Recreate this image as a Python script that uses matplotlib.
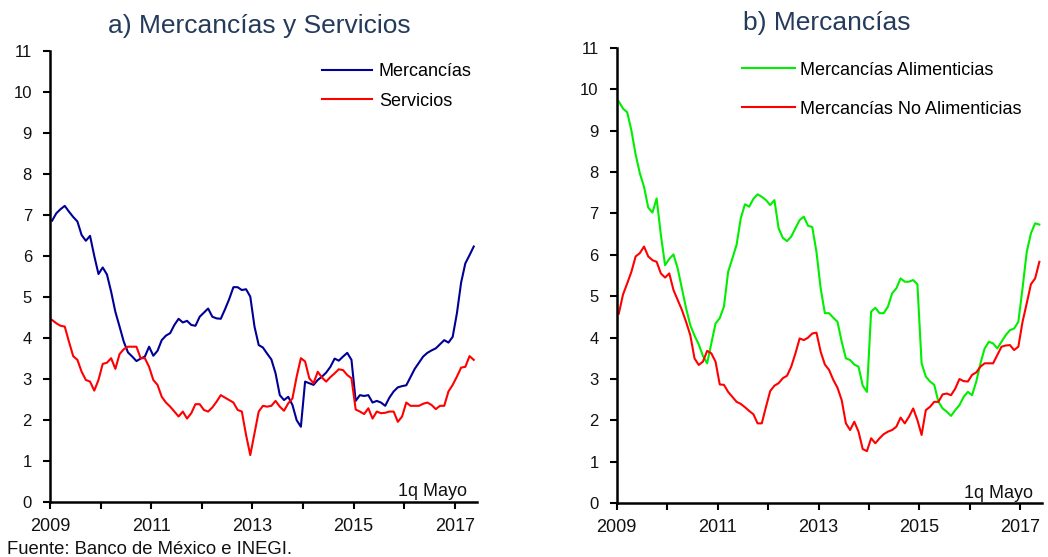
import matplotlib
matplotlib.use("Agg")
import matplotlib.pyplot as plt
import numpy as np

plt.rcParams['font.family'] = ['Liberation Sans', 'DejaVu Sans']

# Monthly data, Jan 2009 .. May 2017 (1q Mayo)
start_year = 2009
mercancias = [6.86, 7.04, 7.14, 7.22, 7.08, 6.95, 6.84, 6.51, 6.37, 6.49,
              6.00, 5.56, 5.72, 5.55, 5.13, 4.64, 4.28, 3.91, 3.65, 3.55,
              3.44, 3.50, 3.55, 3.79, 3.57, 3.69, 3.95, 4.06, 4.12, 4.32,
              4.47, 4.38, 4.42, 4.32, 4.30, 4.52, 4.62, 4.72, 4.52, 4.48,
              4.47, 4.70, 4.95, 5.24, 5.24, 5.17, 5.19, 5.01, 4.28, 3.83,
              3.77, 3.62, 3.48, 3.14, 2.61, 2.49, 2.57, 2.37, 2.00, 1.84,
              2.94, 2.90, 2.86, 2.98, 3.06, 3.16, 3.30, 3.50, 3.45, 3.55,
              3.64, 3.47, 2.47, 2.61, 2.59, 2.61, 2.43, 2.47, 2.43, 2.35,
              2.55, 2.70, 2.80, 2.83, 2.85, 3.05, 3.25, 3.40, 3.55, 3.64,
              3.70, 3.75, 3.85, 3.95, 3.89, 4.03, 4.60, 5.35, 5.82, 6.02,
              6.23]
servicios = [4.44, 4.36, 4.30, 4.28, 3.91, 3.56, 3.47, 3.18, 2.98, 2.94,
             2.72, 2.98, 3.37, 3.40, 3.51, 3.25, 3.61, 3.73, 3.79, 3.79,
             3.79, 3.51, 3.51, 3.30, 2.98, 2.86, 2.57, 2.43, 2.33, 2.21,
             2.09, 2.21, 2.04, 2.17, 2.39, 2.39, 2.25, 2.21, 2.31, 2.45,
             2.61, 2.55, 2.49, 2.43, 2.25, 2.21, 1.64, 1.15, 1.68, 2.21,
             2.35, 2.33, 2.35, 2.47, 2.33, 2.23, 2.41, 2.53, 3.06, 3.51,
             3.43, 3.02, 2.90, 3.18, 3.04, 2.94, 3.05, 3.14, 3.24, 3.22,
             3.10, 3.02, 2.26, 2.21, 2.15, 2.29, 2.04, 2.21, 2.17, 2.18,
             2.21, 2.21, 1.96, 2.09, 2.43, 2.35, 2.35, 2.35, 2.40, 2.43,
             2.37, 2.27, 2.35, 2.35, 2.70, 2.86, 3.06, 3.28, 3.30, 3.56,
             3.47]
alimenticias = [9.70, 9.53, 9.44, 9.00, 8.42, 7.97, 7.64, 7.14, 7.02, 7.36,
                6.48, 5.75, 5.90, 6.01, 5.67, 5.19, 4.71, 4.30, 4.05, 3.84,
                3.56, 3.38, 3.86, 4.34, 4.47, 4.75, 5.59, 5.91, 6.24, 6.88,
                7.22, 7.16, 7.35, 7.46, 7.40, 7.32, 7.20, 7.32, 6.64, 6.41,
                6.33, 6.44, 6.64, 6.84, 6.92, 6.70, 6.67, 6.07, 5.19, 4.59,
                4.59, 4.48, 4.38, 3.90, 3.50, 3.46, 3.35, 3.30, 2.84, 2.69,
                4.63, 4.72, 4.59, 4.59, 4.75, 5.07, 5.19, 5.43, 5.35, 5.35,
                5.39, 5.29, 3.38, 3.06, 2.94, 2.86, 2.45, 2.29, 2.21, 2.11,
                2.25, 2.37, 2.57, 2.69, 2.61, 2.94, 3.38, 3.74, 3.90, 3.86,
                3.74, 3.90, 4.06, 4.18, 4.22, 4.38, 5.19, 6.07, 6.52, 6.76,
                6.73]
no_alimenticias = [4.58, 5.04, 5.31, 5.59, 5.96, 6.04, 6.20, 5.96, 5.87, 5.83,
                   5.55, 5.45, 5.55, 5.15, 4.91, 4.67, 4.38, 4.06, 3.50, 3.34,
                   3.42, 3.68, 3.62, 3.42, 2.87, 2.86, 2.69, 2.57, 2.45, 2.40,
                   2.32, 2.23, 2.15, 1.93, 1.93, 2.33, 2.71, 2.84, 2.90, 3.02,
                   3.08, 3.30, 3.62, 3.98, 3.94, 4.00, 4.10, 4.12, 3.66, 3.35,
                   3.22, 2.98, 2.79, 2.49, 1.93, 1.77, 1.97, 1.73, 1.31, 1.26,
                   1.57, 1.45, 1.57, 1.67, 1.73, 1.77, 1.85, 2.07, 1.93, 2.09,
                   2.29, 2.01, 1.65, 2.25, 2.33, 2.45, 2.45, 2.63, 2.65, 2.61,
                   2.77, 3.00, 2.95, 2.94, 3.10, 3.16, 3.30, 3.38, 3.38, 3.38,
                   3.58, 3.78, 3.81, 3.82, 3.70, 3.78, 4.38, 4.83, 5.29, 5.43,
                   5.83]

year_ticks = list(range(2009, 2018))
year_labels = ['2009', '', '2011', '', '2013', '', '2015', '', '2017']
y_ticks = list(range(0, 12))

titles = ['a) Mercancías y Servicios', 'b) Mercancías']
labels_a = ['Mercancías', 'Servicios']
labels_b = ['Mercancías Alimenticias', 'Mercancías No Alimenticias']
note = '1q Mayo'
source = 'Fuente: Banco de México e INEGI.'

W, H = 1048, 557
fig = plt.figure(figsize=(W / 100, H / 100), dpi=100)

def px_axes(x0, x1, ytop, ybot):
    return fig.add_axes([x0 / W, 1 - ybot / H, (x1 - x0) / W, (ybot - ytop) / H])

ax1 = px_axes(50, 476.7, 50.7, 502.3)
ax2 = px_axes(616.7, 1042.3, 47.7, 503.3)

n = len(mercancias)
x = start_year + (np.arange(n) + 0.5) / 12.0

BLUE = '#000096'
RED = '#FF0000'
GREEN = '#00EE00'
TITLE_C = '#243B5A'

ax1.plot(x, mercancias, color=BLUE, lw=1.5, label=labels_a[0])
ax1.plot(x, servicios, color=RED, lw=1.5, label=labels_a[1])
ax2.plot(x, alimenticias, color=GREEN, lw=1.5, label=labels_b[0])
ax2.plot(x, no_alimenticias, color=RED, lw=1.5, label=labels_b[1])

for ax in (ax1, ax2):
    ax.set_xlim(2009, 2009 + 101.2 / 12)
    ax.set_ylim(0, 11)
    ax.set_yticks(y_ticks)
    ax.set_xticks(year_ticks)
    ax.set_xticklabels(year_labels)
    for s in ('top', 'right'):
        ax.spines[s].set_visible(False)
    for s in ('left', 'bottom'):
        ax.spines[s].set_linewidth(1.8)
        ax.spines[s].set_color('black')
    ax.tick_params(axis='both', direction='out', length=5, width=1.5, color='black')
    ax.tick_params(axis='y', labelsize=12, pad=8, labelcolor='#111111')
    ax.tick_params(axis='x', labelsize=13, pad=6, labelcolor='#111111')
    ax.set_facecolor('white')

# titles
fig.text(259 / W, 1 - 33 / H, titles[0], ha='center', va='baseline',
         fontsize=19, color=TITLE_C)
fig.text(827 / W, 1 - 30 / H, titles[1], ha='center', va='baseline',
         fontsize=19, color=TITLE_C)

# legends
leg1 = ax1.legend(loc='upper left', bbox_to_anchor=(321.7 / W, 1 - 63 / H),
                  bbox_transform=fig.transFigure, frameon=False, fontsize=13,
                  handlelength=2.77, handletextpad=0.4, labelspacing=0.70,
                  borderpad=0, borderaxespad=0)
leg2 = ax2.legend(loc='upper left', bbox_to_anchor=(742 / W, 1 - 61.6 / H),
                  bbox_transform=fig.transFigure, frameon=False, fontsize=13,
                  handlelength=2.92, handletextpad=0.29, labelspacing=1.22,
                  borderpad=0, borderaxespad=0)

# notes
fig.text(398 / W, 1 - 496 / H, note, ha='left', va='baseline', fontsize=13, color='#111111')
fig.text(964 / W, 1 - 497.5 / H, note, ha='left', va='baseline', fontsize=13, color='#111111')
fig.text(7 / W, 1 - 554 / H, source, ha='left', va='baseline', fontsize=13.3, color='#111111')

fig.savefig('out.png', dpi=100, facecolor='white')
